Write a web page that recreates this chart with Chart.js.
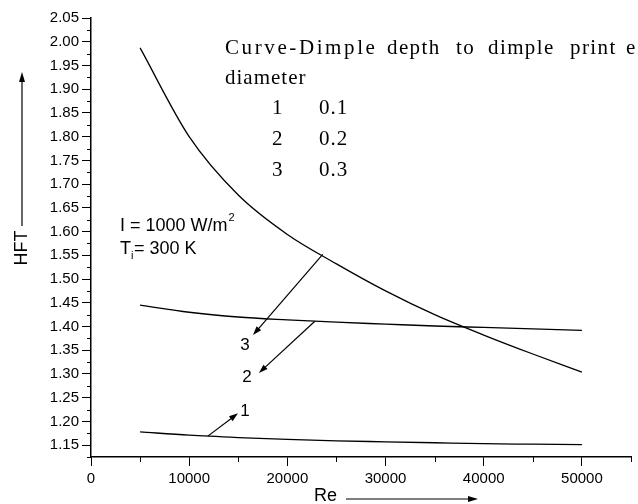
<!DOCTYPE html>
<html>
<head>
<meta charset="utf-8">
<script src="https://cdn.jsdelivr.net/npm/chart.js@4.4.1/dist/chart.umd.min.js"></script>
<style>
  html, body { margin: 0; padding: 0; background: #fff; }
  #wrap { width: 638px; height: 504px; }
</style>
</head>
<body>
<div id="wrap"><canvas id="chart" width="638" height="504"></canvas></div>
<script>
// Re values along the x axis
const reValues = [5000, 10000, 15000, 20000, 25000, 30000, 35000, 40000, 45000, 50000];
// HFT for dimple depth / print diameter 0.1, 0.2, 0.3
const hftCurve1 = [1.178, 1.171, 1.166, 1.162, 1.159, 1.157, 1.155, 1.153, 1.152, 1.151];
const hftCurve2 = [1.445, 1.430, 1.420, 1.414, 1.409, 1.405, 1.401, 1.398, 1.395, 1.392];
const hftCurve3 = [1.987, 1.800, 1.677, 1.594, 1.532, 1.475, 1.425, 1.382, 1.342, 1.304];

const xTickValues = [0, 10000, 20000, 30000, 40000, 50000];
const xMinorValues = [5000, 15000, 25000, 35000, 45000, 55000];
const yTickValues = [1.15, 1.20, 1.25, 1.30, 1.35, 1.40, 1.45, 1.50, 1.55, 1.60,
                     1.65, 1.70, 1.75, 1.80, 1.85, 1.90, 1.95, 2.00, 2.05];

// curve labels with pointer arrows (data space)
const curveNames = ['1', '2', '3'];
const arrowFrom = [[11900, 1.169], [22800, 1.411], [23600, 1.552]];
const arrowTo = [[14970, 1.217], [17100, 1.302], [16500, 1.382]];
const nameAt = [[15680, 1.222], [15890, 1.293], [15680, 1.361]];

const legendRows = [['1', '0.1'], ['2', '0.2'], ['3', '0.3']];

const toPoints = (ys) => reValues.map((x, i) => ({ x: x, y: ys[i] }));

function arrow(ctx, x1, y1, x2, y2, head) {
  const a = Math.atan2(y2 - y1, x2 - x1);
  ctx.beginPath();
  ctx.moveTo(x1, y1);
  ctx.lineTo(x2 - Math.cos(a) * head * 0.8, y2 - Math.sin(a) * head * 0.8);
  ctx.stroke();
  ctx.beginPath();
  ctx.moveTo(x2, y2);
  ctx.lineTo(x2 - head * Math.cos(a) + 3 * Math.sin(a), y2 - head * Math.sin(a) - 3 * Math.cos(a));
  ctx.lineTo(x2 - head * Math.cos(a) - 3 * Math.sin(a), y2 - head * Math.sin(a) + 3 * Math.cos(a));
  ctx.closePath();
  ctx.fill();
}

const extras = {
  id: 'extras',
  afterDraw(chart) {
    const ctx = chart.ctx;
    const xs = chart.scales.x, ys = chart.scales.y;
    const area = chart.chartArea;
    ctx.save();
    ctx.strokeStyle = '#000';
    ctx.fillStyle = '#000';

    // minor ticks
    ctx.lineWidth = 1;
    ctx.beginPath();
    xMinorValues.forEach(v => {
      const px = Math.round(xs.getPixelForValue(v)) + 0.5;
      ctx.moveTo(px, area.bottom);
      ctx.lineTo(px, area.bottom + 5);
    });
    for (let i = 0; i < yTickValues.length; i++) {
      const v = yTickValues[i] - 0.025;
      const py = Math.round(ys.getPixelForValue(v)) + 0.5;
      ctx.moveTo(area.left, py);
      ctx.lineTo(area.left - 4, py);
    }
    ctx.stroke();

    // arrows to curves
    ctx.lineWidth = 1.2;
    ctx.font = '17px "Liberation Sans", Arial, sans-serif';
    ctx.textAlign = 'center';
    ctx.textBaseline = 'middle';
    for (let i = 0; i < curveNames.length; i++) {
      arrow(ctx,
        xs.getPixelForValue(arrowFrom[i][0]), ys.getPixelForValue(arrowFrom[i][1]),
        xs.getPixelForValue(arrowTo[i][0]), ys.getPixelForValue(arrowTo[i][1]), 9);
      ctx.fillText(curveNames[i], xs.getPixelForValue(nameAt[i][0]), ys.getPixelForValue(nameAt[i][1]));
    }

    // legend block (serif)
    ctx.textAlign = 'left';
    ctx.font = '21px "Liberation Serif", "Times New Roman", serif';
    ctx.letterSpacing = '2.6px';
    ctx.fillText('Curve-Dimple', 225, 48);
    ctx.letterSpacing = '1.4px';
    const words = [['depth', 387], ['to', 456], ['dimple', 488], ['print', 570], ['e', 626]];
    words.forEach(w => ctx.fillText(w[0], w[1], 48));
    ctx.letterSpacing = '1px';
    ctx.fillText('diameter', 225, 78);
    legendRows.forEach((r, i) => {
      ctx.fillText(r[0], 272, 108 + i * 31);
      ctx.fillText(r[1], 319, 108 + i * 31);
    });
    ctx.letterSpacing = '0px';

    // conditions
    ctx.font = '18px "Liberation Sans", Arial, sans-serif';
    ctx.fillText('I = 1000 W/m', 120, 226);
    let w = ctx.measureText('I = 1000 W/m').width;
    ctx.font = '11px "Liberation Sans", Arial, sans-serif';
    ctx.fillText('2', 120 + w + 1, 218);
    ctx.font = '18px "Liberation Sans", Arial, sans-serif';
    ctx.fillText('T', 120, 249);
    w = ctx.measureText('T').width;
    ctx.font = '11px "Liberation Sans", Arial, sans-serif';
    ctx.fillText('i', 120 + w, 256);
    ctx.font = '18px "Liberation Sans", Arial, sans-serif';
    ctx.fillText('= 300 K', 120 + w + 3, 249);

    // axis titles with arrows
    ctx.lineWidth = 1.2;
    ctx.font = '18px "Liberation Sans", Arial, sans-serif';
    ctx.fillText('Re', 314, 496);
    arrow(ctx, 346, 499, 478, 499, 10);
    ctx.save();
    ctx.translate(22, 248);
    ctx.rotate(-Math.PI / 2);
    ctx.textAlign = 'center';
    ctx.fillText('HFT', 0, 0);
    ctx.restore();
    arrow(ctx, 22, 226, 22, 72, 10);
    ctx.restore();
  }
};

const lineStyle = {
  borderColor: '#000',
  borderWidth: 1.3,
  pointRadius: 0,
  fill: false,
  cubicInterpolationMode: 'monotone'
};

new Chart(document.getElementById('chart'), {
  type: 'line',
  data: {
    datasets: [
      Object.assign({ label: '1', data: toPoints(hftCurve1) }, lineStyle),
      Object.assign({ label: '2', data: toPoints(hftCurve2) }, lineStyle),
      Object.assign({ label: '3', data: toPoints(hftCurve3) }, lineStyle)
    ]
  },
  options: {
    responsive: false,
    animation: false,
    layout: { padding: { left: 0, top: 18, right: 7, bottom: 0 } },
    plugins: { legend: { display: false }, tooltip: { enabled: false } },
    scales: {
      x: {
        type: 'linear',
        min: 0,
        max: 55000,
        afterBuildTicks: (s) => { s.ticks = xTickValues.map(v => ({ value: v })); },
        afterFit: (s) => { s.height = 47; },
        grid: { drawOnChartArea: false, tickLength: 9, tickColor: '#000', tickWidth: 1 },
        border: { color: '#000', width: 1.5 },
        ticks: {
          color: '#000', padding: 4, maxRotation: 0, autoSkip: false,
          font: { family: '"Liberation Sans", Arial, sans-serif', size: 15 },
          callback: (v) => String(v)
        }
      },
      y: {
        type: 'linear',
        min: 1.125,
        max: 2.05,
        afterBuildTicks: (s) => { s.ticks = yTickValues.map(v => ({ value: v })); },
        afterFit: (s) => { s.width = 91; },
        grid: { drawOnChartArea: false, tickLength: 9, tickColor: '#000', tickWidth: 1 },
        border: { color: '#000', width: 1.5 },
        ticks: {
          color: '#000', padding: 3, autoSkip: false,
          font: { family: '"Liberation Sans", Arial, sans-serif', size: 15 },
          callback: (v) => Number(v).toFixed(2)
        }
      }
    }
  },
  plugins: [extras]
});
</script>
</body>
</html>
